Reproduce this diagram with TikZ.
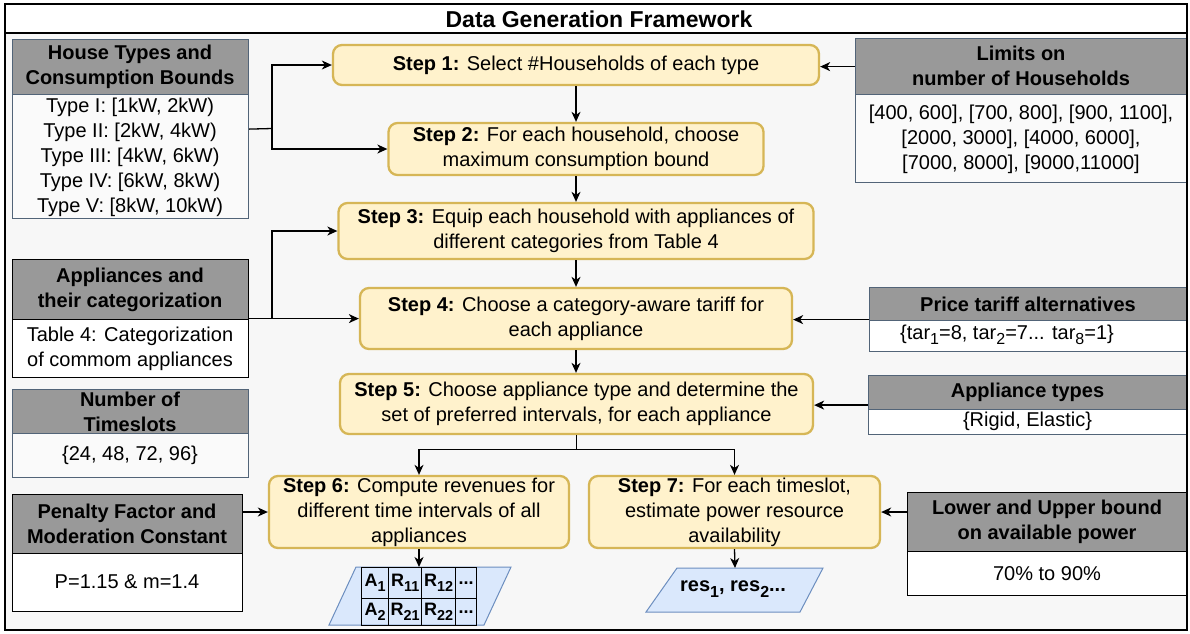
\documentclass[tikz,border=0pt]{standalone}
\usepackage{fontspec}
\setmainfont{Liberation Sans}
\usetikzlibrary{arrows.meta,calc}
\definecolor{stepfill}{HTML}{FFF2CC}
\definecolor{stepdraw}{HTML}{D6B656}
\definecolor{hdgray}{HTML}{999999}
\definecolor{slate}{HTML}{526478}
\definecolor{paleb}{HTML}{FAFAFA}
\definecolor{bgc}{HTML}{F7F7F7}
\definecolor{parafill}{HTML}{DAE8FC}
\definecolor{paradraw}{HTML}{6C8EBF}
% lowered index, a little smaller than the running text
\newcommand\lowix[1]{\raisebox{-0.28em}{\scalebox{0.8}{#1}}}
\tikzset{
  panelS/.style={draw=slate, line width=1.2pt, fill=paleb, inner sep=0pt, anchor=north west},
  panelW/.style={panelS, fill=white},
  panelK/.style={draw=black, line width=1.2pt, fill=white, inner sep=0pt, anchor=north west},
  headS/.style={draw=slate, line width=1.2pt, fill=hdgray, inner sep=0pt, anchor=north west},
  headK/.style={headS, draw=black},
  hdtext/.style={font=\bfseries\fontsize{20}{25}\selectfont, align=center, inner sep=0pt},
  bdtext/.style={font=\fontsize{20}{25}\selectfont, align=center, inner sep=0pt},
  stepbox/.style={draw=stepdraw, fill=stepfill, line width=2.3pt, rounded corners=9pt,
    inner sep=0pt, align=center, font=\fontsize{20}{25}\selectfont},
  cell/.style={draw=black, line width=1.3pt, inner sep=0pt, anchor=north west,
    font=\bfseries\fontsize{18}{20}\selectfont},
  arr/.style={-{Stealth[length=10pt,width=9pt,inset=3pt]}, line width=1.3pt},
  link/.style={line width=1.3pt},
}
\begin{document}
\begin{tikzpicture}[x=1pt,y=-1pt]
\useasboundingbox (0,0) rectangle (1190,633);
% frame background and title bar
\fill[white] (5,4) rectangle (1187,33);
\fill[bgc] (5,33) rectangle (1187,630);
\node[font=\bfseries\fontsize{23}{27}\selectfont, inner sep=0pt] (title) at (599,19) {Data Generation Framework};

% ---------- input panels, left ----------
\node[panelS, minimum width=236pt, minimum height=179pt] (ht) at (12,39) {};
\node[headS, minimum width=236pt, minimum height=55pt] (hth) at (12,39) {};
\node[hdtext] (htht) at (130,67) {House Types and\\Consumption Bounds};
\node[bdtext] (htbt) at (130,157) {Type I: [1kW, 2kW)\\Type II: [2kW, 4kW)\\Type III: [4kW, 6kW)\\Type IV: [6kW, 8kW)\\Type V: [8kW, 10kW)};

\node[panelK, minimum width=236pt, minimum height=118pt] (ap) at (12,259) {};
\node[headK, minimum width=236pt, minimum height=60pt] (aph) at (12,259) {};
\node[hdtext] (apht) at (130,289.5) {Appliances and\\their categorization};
\node[bdtext] (apbt) at (130,349) {Table 4: Categorization\\of commom appliances};

\node[panelS, minimum width=236pt, minimum height=88pt] (ts) at (12,389) {};
\node[headS, minimum width=236pt, minimum height=44pt] (tsh) at (12,389) {};
\node[hdtext] (tsht) at (130,412) {Number of\\Timeslots};
\node[bdtext] (tsbt) at (130,455) {\{24, 48, 72, 96\}};

\node[panelK, minimum width=230pt, minimum height=117pt] (pe) at (12,494) {};
\node[headK, minimum width=230pt, minimum height=59pt] (peh) at (12,494) {};
\node[hdtext] (peht) at (127,524) {Penalty Factor and\\Moderation Constant};
\node[bdtext] (pebt) at (127,582) {P=1.15 \& m=1.4};

% ---------- input panels, right ----------
\node[panelS, minimum width=332pt, minimum height=144pt] (li) at (855,38) {};
\node[headS, minimum width=332pt, minimum height=56pt] (lih) at (855,38) {};
\node[hdtext] (liht) at (1021,66) {Limits on\\number of Households};
\node[bdtext] (libt) at (1021,139) {{[}400, 600], [700, 800], [900, 1100],\\{[}2000, 3000], [4000, 6000],\\{[}7000, 8000], [9000,11000]};

\node[panelW, minimum width=318pt, minimum height=64pt] (pr) at (869,287) {};
\node[headS, minimum width=318pt, minimum height=33pt] (prh) at (869,287) {};
\node[hdtext] (prht) at (1028,304) {Price tariff alternatives};
\node[bdtext] (prbt) at (1007,335) {\{tar\lowix{1}=8, tar\lowix{2}=7... tar\lowix{8}=1\}};

\node[panelW, minimum width=319pt, minimum height=59pt] (at) at (868,375) {};
\node[headS, minimum width=319pt, minimum height=34pt] (ath) at (868,375) {};
\node[hdtext] (atht) at (1027.5,392) {Appliance types};
\node[bdtext] (atbt) at (1027.5,421.5) {\{Rigid, Elastic\}};

\node[panelK, minimum width=280pt, minimum height=103pt] (lo) at (907,492) {};
\node[headK, minimum width=280pt, minimum height=59pt] (loh) at (907,492) {};
\node[hdtext] (loht) at (1047,522) {Lower and Upper bound\\on available power};
\node[bdtext] (lobt) at (1047,574) {70\% to 90\%};

% ---------- steps ----------
\node[stepbox, minimum width=486pt, minimum height=40pt] (s1) at (576,65)
  {\textbf{Step 1:} Select \#Households of each type};
\node[stepbox, minimum width=375pt, minimum height=52pt] (s2) at (576,149)
  {\textbf{Step 2:} For each household, choose\\maximum consumption bound};
\node[stepbox, minimum width=475pt, minimum height=56pt] (s3) at (576,231)
  {\textbf{Step 3:} Equip each household with appliances of\\different categories from Table 4};
\node[stepbox, minimum width=432pt, minimum height=61pt] (s4) at (576,318.5)
  {\textbf{Step 4:} Choose a category-aware tariff for\\each appliance};
\node[stepbox, minimum width=473pt, minimum height=60pt] (s5) at (576.5,404)
  {\textbf{Step 5:} Choose appliance type and determine the\\set of preferred intervals, for each appliance};
\node[stepbox, minimum width=300pt, minimum height=72pt] (s6) at (419,512)
  {\textbf{Step 6:} Compute revenues for\\different time intervals of all\\appliances};
\node[stepbox, minimum width=291pt, minimum height=72pt] (s7) at (734.5,512)
  {\textbf{Step 7:} For each timeslot,\\estimate power resource\\availability};

% ---------- outputs ----------
\filldraw[fill=parafill, draw=paradraw, line width=1pt]
  (329,625) -- (356,567) -- (511,567) -- (484,625) -- cycle;
\node[cell, minimum width=27pt, minimum height=31pt] (t11) at (361,567) {A\lowix{1}};
\node[cell, minimum width=33pt, minimum height=31pt] (t12) at (388,567) {R\lowix{11}};
\node[cell, minimum width=34pt, minimum height=31pt] (t13) at (421,567) {R\lowix{12}};
\node[cell, minimum width=21pt, minimum height=31pt] (t14) at (455,567) {...};
\node[cell, minimum width=27pt, minimum height=27pt] (t21) at (361,598) {A\lowix{2}};
\node[cell, minimum width=33pt, minimum height=27pt] (t22) at (388,598) {R\lowix{21}};
\node[cell, minimum width=34pt, minimum height=27pt] (t23) at (421,598) {R\lowix{22}};
\node[cell, minimum width=21pt, minimum height=27pt] (t24) at (455,598) {...};

\filldraw[fill=parafill, draw=paradraw, line width=1pt]
  (646,612) -- (677,568) -- (823,568) -- (800,612) -- cycle;
\coordinate (p2top) at (735,568);
\node[font=\bfseries\fontsize{20}{24}\selectfont, inner sep=0pt] (res) at (733,589)
  {res\lowix{1}, res\lowix{2}...};

% ---------- connectors ----------
\coordinate (j1) at (272,128.5);
\draw[link] (ht.east) -- (j1);
\draw[arr] (j1) |- (s1.west);
\draw[arr] (j1) |- (s2.west);

\coordinate (j2) at (272,318);
\draw[arr] (ap.east) -- (ap.east -| s4.west);
\draw[arr] (j2) |- (s3.west);

\draw[arr] (lih.west) -- (lih.west -| s1.east);
\draw[arr] (pr.west) -- (pr.west -| s4.east);
\draw[arr] (at.west) -- (at.west -| s5.east);
\draw[arr] (s7.east -| lo.west) -- (s7.east);
\draw[arr] (s6.west -| pe.east) -- (s6.west);

\draw[arr] (s1.south) -- (s1.south |- s2.north);
\draw[arr] (s2.south) -- (s2.south |- s3.north);
\draw[arr] (s3.south) -- (s3.south |- s4.north);
\draw[arr] (s4.south) -- (s4.south |- s5.north);
\draw[link] (s5.south) -- ++(0,14) coordinate (j3);
\draw[arr] (j3) -| (s6.north);
\draw[arr] (j3) -| (s7.north);
\draw[arr] (s6.south) -- (s6.south |- t11.north);
\draw[arr] (s7.south) -- (p2top);

% outer frame
\draw[line width=2pt] (5,4) rectangle (1187,630);
\draw[line width=2pt] (5,33) -- (1187,33);
\end{tikzpicture}
\end{document}
